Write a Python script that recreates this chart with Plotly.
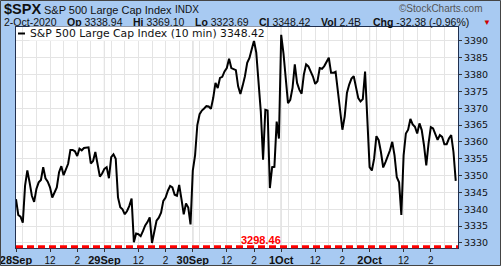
import plotly.graph_objects as go

# ---------------- data (10-minute closes) ----------------
days = ["28Sep", "29Sep", "30Sep", "1Oct", "2Oct"]
day1 = [3343, 3338.3, 3337.8, 3336, 3347, 3351.5, 3348, 3344, 3342.2, 3346, 3348, 3348.7, 3352.5,
        3349.2, 3348.2, 3346.5, 3343.5, 3345.2, 3346.5, 3351, 3352.8, 3350.1, 3352, 3353.5, 3357.6,
        3357.6, 3357.2, 3355.8, 3358, 3357.5, 3358.2, 3358.4, 3358.4, 3353.6, 3354.3, 3357, 3353,
        3349.7, 3350.6]
day2 = [3352, 3352.5, 3349.2, 3355.5, 3356.3, 3355, 3343.5, 3340.6, 3340, 3338.5, 3339.5, 3341,
        3343.2, 3330.2, 3332.8, 3332.6, 3332, 3333.5, 3335.2, 3336.2, 3337.6, 3330, 3333.5, 3336.6,
        3337.5, 3339, 3342.5, 3343.5, 3345.5, 3346.9, 3346.5, 3344.3, 3344, 3347.2, 3343, 3338.5,
        3341.7, 3340.5, 3335.5]
day3 = [3351.5, 3356, 3365, 3368.2, 3369.3, 3369.9, 3370.6, 3370.5, 3369.8, 3373, 3377.5, 3376,
        3379, 3379.3, 3380.9, 3381.9, 3384.7, 3381.9, 3381.6, 3381.3, 3376.5, 3374.2, 3376.7, 3379.5,
        3383.5, 3384.9, 3387.5, 3390, 3386.5, 3376.5, 3369, 3354.7, 3369.5, 3369.3, 3346.3, 3352.5,
        3352.6, 3366, 3361]
day4 = [3391.8, 3386.3, 3378.9, 3371.5, 3372.5, 3376, 3383, 3377.5, 3375.5, 3374.3, 3380, 3383,
        3382.4, 3381, 3379.4, 3377.2, 3378, 3381.9, 3381.7, 3382.5, 3383.9, 3385, 3380.5, 3380.5,
        3380.8, 3375, 3369, 3363.6, 3367.5, 3374.5, 3377, 3378.8, 3379.5, 3376.5, 3373, 3372,
        3372.7, 3380.9, 3367]
day5 = [3352.5, 3351.5, 3355, 3361.7, 3360.5, 3357, 3352.4, 3354, 3355.8, 3357.5, 3360, 3356,
        3349.5, 3348, 3338.3, 3356, 3362.5, 3363.6, 3366.8, 3365.2, 3364.5, 3362.5, 3365.5, 3363.5,
        3359, 3353, 3359.5, 3364.4, 3364, 3362, 3360.6, 3362, 3361.5, 3359.3, 3359.3, 3361, 3362,
        3357, 3348.42]
series_days = [day1, day2, day3, day4, day5]

bars_per_day = 39          # 9:30-16:00 in 10-minute bars
intraday_ticks = [15, 27]  # 12:00 and 14:00 bar offsets
intraday_labels = ["12", "2"]
hour_offsets = [3, 9, 15, 21, 27, 33]   # 10:00 ... 15:00

y_ticks = [3330, 3335, 3340, 3345, 3350, 3355, 3360, 3365, 3370, 3375, 3380, 3385, 3390]

prev_close_label = "3298.46"
legend_text = "S&P 500 Large Cap Index (10 min) 3348.42"
title_sym = "$SPX"
title_name = "S&P 500 Large Cap Index"
title_exch = "INDX"
quote_date = "2-Oct-2020"
quote_items = [("Op", "3338.94"), ("Hi", "3369.10"), ("Lo", "3323.69"),
               ("Cl", "3348.42"), ("Vol", "2.4B"), ("Chg", "-32.38 (-0.96%)")]
credit = "\u00a9StockCharts.com"

# ---------------- build series ----------------
xs, ys = [], []
for d, vals in enumerate(series_days):
    for i, v in enumerate(vals):
        xs.append(d * bars_per_day + i)
        ys.append(v)

W, H = 501, 266
L, R, T, B = 16, 43, 27, 18
PW, PH = W - L - R, H - T - B

def px(x):
    return (x - L) / PW

def py(y):
    return (H - B - y) / PH

BLUE = "rgb(168,202,242)"

fig = go.Figure()
fig.add_trace(go.Scatter(x=xs, y=ys, mode="lines",
                         line=dict(color="black", width=2), hoverinfo="skip",
                         showlegend=False))

tickvals, ticktext = [], []
minor_vals = []
for d, name in enumerate(days):
    base = d * bars_per_day
    tickvals.append(base)
    ticktext.append("<b><span style='font-size:11px'>" + name + "</span></b>")
    for off, lab in zip(intraday_ticks, intraday_labels):
        tickvals.append(base + off)
        ticktext.append(lab)
    for off in hour_offsets:
        minor_vals.append(base + off)

shapes = []
for d in range(1, len(days)):
    shapes.append(dict(type="line", xref="x", yref="y domain", x0=d * bars_per_day,
                       x1=d * bars_per_day, y0=0, y1=1, layer="below",
                       line=dict(color="#b4b4b4", width=1)))
shapes.append(dict(type="line", xref="paper", yref="paper", x0=0, x1=1,
                   y0=py(246.8), y1=py(246.8),
                   line=dict(color="#ff0000", width=3, dash="7px,4px")))
shapes.append(dict(type="line", xref="paper", yref="paper", x0=px(18), x1=px(25),
                   y0=py(33.5), y1=py(33.5), line=dict(color="black", width=2)))
shapes.append(dict(type="rect", xref="paper", yref="paper", x0=px(0.5), x1=px(500.5),
                   y0=py(265.5), y1=py(0.5), line=dict(color="#444", width=1)))

ann = []
def text(x, y, s, size=10, color="#111", family="Liberation Sans, Arial", bg=None, xanchor="left"):
    a = dict(x=px(x), y=py(y), xref="paper", yref="paper", text=s, showarrow=False,
             xanchor=xanchor, yanchor="middle", font=dict(size=size, color=color, family=family),
             borderpad=0)
    if bg:
        a["bgcolor"] = bg
    ann.append(a)

text(3, 8.5, "<b>" + title_sym + "</b>", size=14.5)
text(43, 9.5, title_name, size=11)
text(174, 9.5, title_exch, size=10)
text(398, 8, credit, size=10, color="#555")
text(3, 22, quote_date, size=10.5)
q_x = [66, 132, 194, 258, 320, 372]
for (k, v), xx in zip(quote_items, q_x):
    text(xx, 22, "<b>" + k + "</b> " + v, size=10.5)
text(482, 22, "\u25bc", size=8, color="#d00000")
text(29, 33, legend_text, size=10.8, family="DejaVu Sans", bg="white")
text(260.5, 239.5, "<b>" + prev_close_label + "</b>", size=11, color="#ff0000", xanchor="center")

fig.update_layout(
    width=W, height=H, autosize=False,
    margin=dict(l=L, r=R, t=T, b=B, pad=0),
    paper_bgcolor=BLUE, plot_bgcolor="white",
    shapes=shapes, annotations=ann,
    xaxis=dict(range=[0, 5 * bars_per_day], tickmode="array", tickvals=tickvals,
               ticktext=ticktext, showgrid=True, gridcolor="#e4e4e4", gridwidth=1,
               ticks="outside", ticklen=3, tickcolor="#333", automargin=False,
               ticklabeloverflow="allow",
               tickfont=dict(family="Liberation Sans, Arial", size=10, color="#111"),
               showline=True, linecolor="#203050", linewidth=1, mirror=True,
               zeroline=False, fixedrange=True,
               minor=dict(tickmode="array", tickvals=minor_vals, showgrid=True,
                          gridcolor="#e4e4e4", gridwidth=1)),
    yaxis=dict(range=[3328.5, 3394.1], side="right", tickmode="array", tickvals=y_ticks,
               ticktext=[str(v) for v in y_ticks], showgrid=True, gridcolor="#e4e4e4",
               ticks="outside", ticklen=3, tickcolor="#333", automargin=False,
               ticklabeloverflow="allow",
               tickfont=dict(family="DejaVu Sans", size=9.5, color="#111"),
               showline=True, linecolor="#203050", linewidth=1, mirror=True,
               zeroline=False, fixedrange=True),
)

fig.write_html("out.html")
